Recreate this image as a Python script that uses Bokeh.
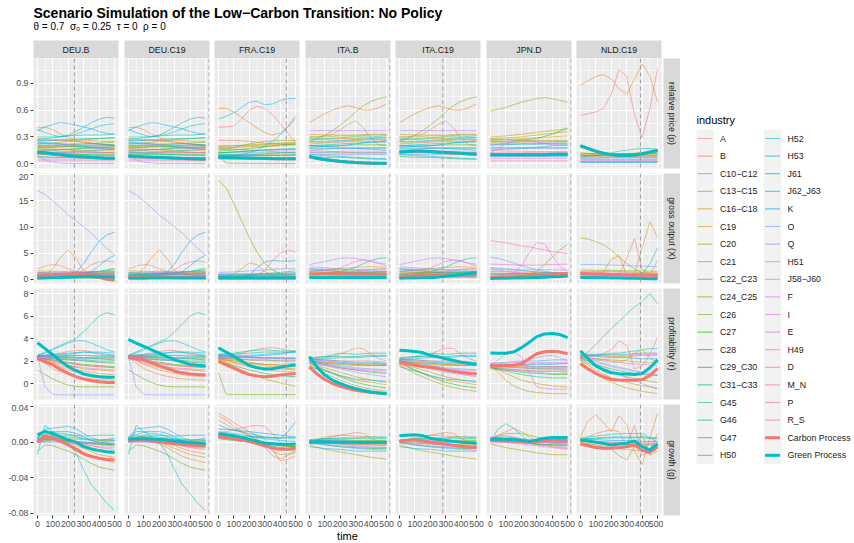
import math
from bokeh.plotting import figure
from bokeh.layouts import column, row
from bokeh.models import (Range1d, FixedTicker, Grid, LinearAxis, PrintfTickFormatter,
                          Label, Span, ColumnDataSource, Spacer)
from bokeh.core.properties import value
from bokeh.embed import file_html
from bokeh.resources import INLINE

# ------------------------------------------------------------------ data
TITLE = "Scenario Simulation of the Low\u2212Carbon Transition: No Policy"
SUBTITLE = "\u03b8 = 0.7\u00a0\u00a0\u03c3\u2080 = 0.25\u00a0\u00a0\u03c4 = 0\u00a0\u00a0\u03c1 = 0"
COLUMNS = ["DEU.B", "DEU.C19", "FRA.C19", "ITA.B", "ITA.C19", "JPN.D", "NLD.C19"]
COUNTRY_OF = ["DEU", "DEU", "FRA", "ITA", "ITA", "JPN", "NLD"]
VARIABLES = ["relative price (p)", "gross output (X)", "profitability (r)", "growth (g)"]
INDUSTRIES = ["A", "B", "C10\u2212C12", "C13\u2212C15", "C16\u2212C18", "C19", "C20", "C21",
              "C22_C23", "C24_C25", "C26", "C27", "C28", "C29_C30", "C31\u2212C33", "G45",
              "G46", "G47", "H50", "H52", "H53", "J61", "J62_J63", "K", "O", "Q", "H51",
              "J58\u2212J60", "F", "I", "E", "H49", "D", "M_N", "P", "R_S"]
PROCESSES = ["Carbon Process", "Green Process"]
TIME_50 = [0, 50, 100, 150, 200, 250, 300, 350, 400, 450, 500]
TIME_100 = [0, 100, 200, 300, 400, 500]
VLINE_TIME = [240, 522, 440, 522, 281, 522, 389]

X_MAJOR = [0, 100, 200, 300, 400, 500]
X_MINOR = [50, 150, 250, 350, 450]
Y_MAJOR = [[0, 0.3, 0.6, 0.9], [0, 5, 10, 15, 20], [0, 2, 4, 6, 8], [-0.08, -0.04, 0, 0.04]]
Y_MINOR = [[0.15, 0.45, 0.75, 1.05], [2.5, 7.5, 12.5, 17.5], [-1, 1, 3, 5, 7], [-0.06, -0.02, 0.02]]

# thick process lines: one list per column (t = 0, 50, ..., 500)
CARBON_P = [
    [0.125, 0.115, 0.105, 0.095, 0.085, 0.078, 0.072, 0.067, 0.063, 0.059, 0.058],
    [0.082, 0.077, 0.073, 0.07, 0.068, 0.064, 0.06, 0.057, 0.054, 0.052, 0.051],
    [0.068, 0.066, 0.064, 0.062, 0.06, 0.058, 0.057, 0.055, 0.054, 0.054, 0.054],
    [0.075, 0.057, 0.043, 0.033, 0.024, 0.017, 0.011, 0.007, 0.004, 0.002, 0.001],
    [0.128, 0.133, 0.137, 0.137, 0.133, 0.128, 0.123, 0.118, 0.113, 0.108, 0.103],
    [0.098, 0.098, 0.098, 0.098, 0.098, 0.098, 0.098, 0.098, 0.102, 0.103, 0.103],
    [0.195, 0.166, 0.137, 0.113, 0.098, 0.091, 0.089, 0.093, 0.108, 0.127, 0.147],
]
GREEN_P = [
    [0.13, 0.12, 0.11, 0.10, 0.09, 0.08, 0.075, 0.07, 0.065, 0.06, 0.06],
    [0.085, 0.08, 0.075, 0.072, 0.07, 0.066, 0.062, 0.058, 0.055, 0.053, 0.052],
    [0.07, 0.068, 0.066, 0.064, 0.062, 0.06, 0.058, 0.056, 0.055, 0.055, 0.055],
    [0.078, 0.06, 0.045, 0.035, 0.025, 0.018, 0.012, 0.008, 0.005, 0.003, 0.002],
    [0.13, 0.135, 0.14, 0.14, 0.135, 0.13, 0.125, 0.12, 0.115, 0.11, 0.105],
    [0.1, 0.1, 0.1, 0.1, 0.1, 0.1, 0.1, 0.1, 0.105, 0.105, 0.105],
    [0.2, 0.17, 0.14, 0.115, 0.1, 0.093, 0.09, 0.095, 0.11, 0.13, 0.15],
]
CARBON_X = [
    [0.7, 0.75, 0.8, 0.9, 1.0, 1.05, 0.9, 0.6, 0.3, 0.0, -0.2],
    [0.35, 0.35, 0.35, 0.34, 0.33, 0.32, 0.31, 0.3, 0.3, 0.3, 0.3],
    [0.2, 0.2, 0.2, 0.2, 0.2, 0.2, 0.2, 0.2, 0.2, 0.2, 0.2],
    [1.0, 1.0, 1.05, 1.05, 1.05, 1.0, 1.0, 1.0, 0.95, 0.95, 0.95],
    [0.4, 0.55, 0.7, 0.75, 0.8, 0.8, 0.8, 0.8, 0.8, 0.8, 0.8],
    [0.3, 0.35, 0.4, 0.45, 0.55, 0.65, 0.75, 0.85, 0.95, 1.05, 1.1],
    [1.08, 1.05, 1.0, 0.95, 0.9, 0.85, 0.8, 0.8, 0.78, 0.77, 0.76],
]
GREEN_X = [
    [0.2, 0.25, 0.3, 0.35, 0.4, 0.45, 0.5, 0.5, 0.45, 0.45, 0.4],
    [0.2, 0.2, 0.2, 0.21, 0.22, 0.22, 0.23, 0.24, 0.24, 0.25, 0.25],
    [0.3, 0.3, 0.3, 0.3, 0.3, 0.3, 0.3, 0.3, 0.3, 0.3, 0.3],
    [0.3, 0.3, 0.3, 0.3, 0.3, 0.3, 0.3, 0.3, 0.3, 0.3, 0.3],
    [0.2, 0.22, 0.25, 0.27, 0.3, 0.4, 0.55, 0.7, 0.9, 1.1, 1.3],
    [0.15, 0.17, 0.2, 0.22, 0.25, 0.3, 0.35, 0.4, 0.45, 0.52, 0.6],
    [0.32, 0.3, 0.28, 0.26, 0.24, 0.22, 0.2, 0.17, 0.14, 0.11, 0.08],
]
CARBON_R = [
    [2.2, 1.95, 1.66, 1.25, 0.9, 0.6, 0.39, 0.25, 0.15, 0.1, 0.09],
    [2.41, 2.25, 2.1, 1.85, 1.6, 1.35, 1.1, 0.95, 0.85, 0.8, 0.78],
    [1.96, 1.65, 1.36, 1.05, 0.8, 0.68, 0.6, 0.65, 0.75, 0.82, 0.9],
    [1.45, 0.85, 0.36, 0.0, -0.25, -0.45, -0.6, -0.7, -0.8, -0.85, -0.9],
    [1.85, 1.75, 1.62, 1.52, 1.45, 1.35, 1.2, 1.08, 0.98, 0.9, 0.84],
    [1.57, 1.57, 1.6, 1.62, 1.75, 2.2, 2.65, 2.82, 2.86, 2.8, 2.65],
    [1.75, 1.3, 0.9, 0.6, 0.36, 0.32, 0.3, 0.3, 0.35, 0.7, 1.36],
]
GREEN_R = [
    [3.62, 3.1, 2.56, 2.0, 1.5, 1.15, 0.84, 0.7, 0.6, 0.56, 0.55],
    [3.92, 3.6, 3.3, 3.0, 2.7, 2.4, 2.1, 1.9, 1.7, 1.62, 1.57],
    [3.17, 2.8, 2.41, 2.0, 1.6, 1.4, 1.3, 1.32, 1.45, 1.55, 1.66],
    [2.4, 1.45, 0.75, 0.3, 0.0, -0.25, -0.45, -0.62, -0.76, -0.85, -0.9],
    [2.95, 2.92, 2.85, 2.75, 2.5, 2.38, 2.2, 2.05, 1.9, 1.8, 1.72],
    [2.72, 2.7, 2.7, 2.8, 3.17, 3.65, 4.17, 4.4, 4.44, 4.35, 4.08],
    [2.92, 2.2, 1.57, 1.2, 0.96, 0.88, 0.84, 0.8, 0.9, 1.4, 2.1],
]
CARBON_G = [
    [0.0, 0.0073, 0.0046, 0.001, -0.003, -0.008, -0.0132, -0.016, -0.018, -0.0195, -0.02],
    [0.002, 0.0025, 0.0022, 0.0015, 0.0005, -0.0005, -0.0015, -0.0025, -0.0032, -0.0038, -0.004],
    [0.0065, 0.0052, 0.0039, 0.0025, 0.001, -0.0015, -0.004, -0.0065, -0.008, -0.0075, -0.0067],
    [-0.0005, -0.0003, -0.0003, -0.0004, -0.0005, -0.0005, -0.0006, -0.0006, -0.0006, -0.0006, -0.0006],
    [0.001, 0.002, 0.0027, 0.0015, 0.0, -0.001, -0.002, -0.0035, -0.0045, -0.0055, -0.006],
    [0.002, 0.0022, 0.002, 0.0015, 0.0008, 0.0, 0.0012, 0.002, 0.0025, 0.0025, 0.002],
    [-0.002, -0.004, -0.006, -0.0068, -0.0068, -0.006, -0.005, -0.003, -0.009, -0.0115, -0.005],
]
GREEN_G = [
    [0.0084, 0.0122, 0.0096, 0.006, 0.0027, 0.0, -0.0049, -0.0075, -0.0094, -0.0108, -0.0113],
    [0.0035, 0.004, 0.004, 0.0038, 0.0033, 0.0025, 0.0015, 0.0005, -0.0003, -0.0008, -0.001],
    [0.0096, 0.0085, 0.0073, 0.0055, 0.0035, 0.0012, -0.001, -0.0018, -0.0022, -0.0022, -0.002],
    [0.0, 0.0005, 0.0005, 0.0004, 0.0003, 0.0002, 0.0, 0.0, 0.0, 0.0, 0.0],
    [0.0073, 0.008, 0.0084, 0.0075, 0.0046, 0.003, 0.002, 0.001, 0.0, -0.0005, -0.001],
    [0.0035, 0.0038, 0.0035, 0.003, 0.002, 0.001, 0.0025, 0.0045, 0.0054, 0.0054, 0.0054],
    [0.0027, 0.0015, 0.0, -0.0015, -0.003, -0.002, -0.001, 0.0016, -0.005, -0.0085, -0.002],
]

# industry lines: 11 values -> t every 50, 6 values -> t every 100
DEU_P = {
    "J61": [0.37, 0.41, 0.44, 0.46, 0.45, 0.43, 0.41, 0.39, 0.36, 0.34, 0.33],
    "G46": [0.27, 0.28, 0.29, 0.30, 0.32, 0.36, 0.41, 0.46, 0.50, 0.52, 0.51],
    "H50": [0.38, 0.35, 0.32, 0.30, 0.31, 0.33, 0.36, 0.39, 0.42, 0.44, 0.45],
    "C10\u2212C12": [0.40, 0.41, 0.38, 0.33, 0.29, 0.27, 0.26, 0.26, 0.25, 0.25, 0.25],
    "A": [0.25, 0.26, 0.26, 0.24, 0.22, 0.20],
    "B": [0.20, 0.20, 0.19, 0.18, 0.17, 0.17],
    "H53": [0.30, 0.30, 0.31, 0.32, 0.32, 0.33],
    "C24_C25": [0.22, 0.23, 0.25, 0.27, 0.28, 0.29],
    "C26": [0.20, 0.20, 0.21, 0.22, 0.23, 0.24],
    "C27": [0.18, 0.18, 0.19, 0.19, 0.20, 0.20],
    "C13\u2212C15": [0.28, 0.27, 0.26, 0.24, 0.22, 0.20],
    "C16\u2212C18": [0.16, 0.16, 0.16, 0.15, 0.15, 0.15],
    "C19": [0.11, 0.11, 0.12, 0.12, 0.12, 0.13],
    "C20": [0.15, 0.15, 0.16, 0.17, 0.18, 0.19],
    "C21": [0.19, 0.19, 0.20, 0.20, 0.21, 0.21],
    "C22_C23": [0.17, 0.16, 0.15, 0.14, 0.13, 0.12],
    "K": [0.24, 0.23, 0.21, 0.19, 0.17, 0.16],
    "G45": [0.12, 0.12, 0.13, 0.14, 0.15, 0.16],
    "G47": [0.26, 0.26, 0.27, 0.28, 0.28, 0.29],
    "H52": [0.14, 0.15, 0.16, 0.17, 0.18, 0.18],
    "C28": [0.10, 0.10, 0.10, 0.10, 0.10, 0.10],
    "C29_C30": [0.08, 0.07, 0.07, 0.06, 0.06, 0.06],
    "Q": [0.09, 0.04, 0.015, 0.005, 0.0, 0.0, 0.0, 0.0, 0.0, 0.0, 0.0],
    "O": [0.05, 0.05, 0.05, 0.05, 0.05, 0.05],
    "H51": [0.23, 0.22, 0.21, 0.20, 0.19, 0.18],
    "F": [0.12, 0.12, 0.12, 0.12, 0.12, 0.12],
    "E": [0.07, 0.07, 0.07, 0.07, 0.07, 0.07],
    "D": [0.03, 0.03, 0.03, 0.03, 0.03, 0.03],
    "M_N": [0.14, 0.14, 0.13, 0.13, 0.12, 0.12],
    "J62_J63": [0.22, 0.22, 0.22, 0.22, 0.22, 0.21],
    "C31\u2212C33": [0.13, 0.12, 0.11, 0.10, 0.09, 0.09],
}
DEU_X = {
    "Q": [17.0, 16.2, 15.0, 13.7, 12.3, 11.2, 10.0, 8.8, 7.3, 5.9, 4.6],
    "K": [0.5, 0.6, 0.7, 0.8, 1.0, 1.3, 3.0, 5.3, 7.3, 8.5, 9.0],
    "J62_J63": [0.4, 0.4, 0.5, 0.6, 0.7, 0.8, 1.0, 1.5, 2.6, 3.8, 4.6],
    "C10\u2212C12": [0.5, 0.8, 2.0, 4.2, 5.6, 4.0, 1.6, 1.0, 0.8, 0.7, 0.7],
    "B": [2.0, 2.5, 2.8, 2.6, 2.0, 1.5, 1.2, 1.1, 1.0, 1.0, 1.0],
    "A": [0.5, 0.5, 0.6, 0.7, 0.8, 1.0, 1.8, 2.8, 3.3, 3.5, 3.3],
    "G46": [0.8, 0.9, 1.0, 1.2, 1.5, 2.1],
    "G45": [1.0, 1.1, 1.2, 1.3, 1.5, 1.8],
    "G47": [0.9, 0.9, 1.0, 1.0, 1.1, 1.1],
    "H50": [0.3, 0.3, 0.3, 0.3, 0.3, 0.3],
    "C13\u2212C15": [0.9, 1.0, 1.1, 1.2, 1.4, 1.6],
    "C20": [0.6, 0.7, 0.8, 0.9, 1.0, 1.1],
    "C21": [1.6, 1.5, 1.5, 1.4, 1.4, 1.3],
    "C29_C30": [1.3, 1.2, 1.1, 1.0, 0.9, 0.8],
    "H53": [0.3, 0.3, 0.4, 0.4, 0.5, 0.5],
    "C24_C25": [0.7, 0.8, 0.9, 1.0, 1.2, 1.4],
    "M_N": [0.5, 0.5, 0.5, 0.6, 0.6, 0.6],
    "O": [0.7, 0.7, 0.7, 0.7, 0.7, 0.7],
    "F": [1.1, 1.1, 1.0, 1.0, 0.9, 0.9],
    "I": [1.2, 1.2, 1.3, 1.3, 1.4, 1.4],
    "E": [0.4, 0.4, 0.4, 0.4, 0.4, 0.4],
    "C27": [0.2, 0.2, 0.2, 0.2, 0.2, 0.2],
}
DEU_R = {
    "G46": [2.5, 2.8, 3.1, 3.4, 3.7, 4.0, 4.6, 5.3, 6.0, 6.3, 6.1],
    "H50": [2.5, 2.7, 3.0, 3.3, 3.6, 3.8, 3.8, 3.6, 3.3, 3.0, 2.8],
    "A": [2.4, 2.5, 2.6, 2.7, 2.85, 2.95, 2.95, 2.8, 2.6, 2.5, 2.4],
    "Q": [2.4, -0.3, -0.95, -1.0, -1.0, -1.0, -1.0, -1.0, -1.0, -1.0, -1.0],
    "C26": [1.2, 0.8, 0.4, 0.1, -0.15, -0.25, -0.3, -0.3, -0.3, -0.3, -0.3],
    "C10\u2212C12": [2.3, 1.3, 0.8, 0.5, 0.35, 0.3],
    "B": [2.4, 1.7, 1.2, 0.9, 0.7, 0.6],
    "J61": [2.4, 2.5, 2.6, 2.8, 2.7, 2.5],
    "H53": [2.5, 2.6, 2.7, 2.8, 2.8, 2.7],
    "C24_C25": [2.4, 2.3, 2.2, 2.0, 1.9, 1.8],
    "C16\u2212C18": [2.3, 2.0, 1.8, 1.6, 1.5, 1.4],
    "C20": [2.3, 2.0, 1.6, 1.3, 1.2, 1.1],
    "C21": [2.4, 2.4, 2.3, 2.3, 2.2, 2.2],
    "C27": [2.3, 2.1, 1.9, 1.7, 1.6, 1.5],
    "C29_C30": [2.2, 2.2, 2.1, 2.1, 2.0, 2.0],
    "G47": [2.4, 2.5, 2.5, 2.5, 2.4, 2.4],
    "K": [2.4, 2.3, 2.3, 2.2, 2.2, 2.1],
    "O": [2.3, 2.2, 2.1, 2.0, 1.9, 1.9],
    "I": [2.4, 2.4, 2.5, 2.5, 2.5, 2.5],
    "E": [2.2, 1.9, 1.6, 1.4, 1.3, 1.2],
    "M_N": [2.3, 2.1, 1.8, 1.6, 1.5, 1.4],
    "C13\u2212C15": [2.3, 1.8, 1.4, 1.1, 0.9, 0.8],
    "G45": [2.5, 2.4, 2.4, 2.3, 2.3, 2.3],
}
DEU_G = {
    "H50": [-0.014, 0.019, 0.012, 0.006, 0.0, -0.0125, -0.0315, -0.048, -0.058, -0.069, -0.077],
    "C26": [-0.01, -0.003, -0.004, -0.007, -0.01, -0.014, -0.019, -0.024, -0.028, -0.03, -0.0315],
    "J61": [0.005, 0.015, 0.016, 0.017, 0.018, 0.015, 0.01, 0.005, 0.002, 0.003, 0.005],
    "K": [0.005, 0.012, 0.012, 0.012, 0.012, 0.01, 0.006, 0.002, 0.0, 0.001, 0.002],
    "C10\u2212C12": [0.005, 0.008, 0.006, 0.002, -0.002, -0.006, -0.011, -0.016, -0.019, -0.021, -0.023],
    "C13\u2212C15": [0.003, 0.005, 0.0, -0.007, -0.014, -0.017],
    "C16\u2212C18": [0.002, 0.004, 0.002, -0.001, -0.003, -0.004],
    "B": [0.004, 0.006, 0.002, -0.004, -0.010, -0.013],
    "G46": [0.004, 0.008, 0.008, 0.007, 0.008, 0.008],
    "G47": [0.004, 0.007, 0.006, 0.004, 0.003, 0.003],
    "C24_C25": [0.002, 0.004, 0.002, 0.0, -0.002, -0.003],
    "C20": [0.0, 0.003, 0.002, 0.0, -0.001, -0.002],
    "C21": [0.003, 0.005, 0.004, 0.003, 0.002, 0.002],
    "A": [0.003, 0.006, 0.003, -0.002, -0.006, -0.008],
    "Q": [0.0, 0.0, 0.0, 0.0, 0.0, 0.0],
    "O": [0.001, 0.002, 0.001, 0.0, -0.001, -0.001],
    "E": [0.0, 0.001, -0.001, -0.003, -0.005, -0.006],
    "H53": [0.006, 0.011, 0.009, 0.004, 0.0, -0.002],
    "C29_C30": [0.002, 0.003, 0.001, -0.001, -0.002, -0.003],
}
FRA_P = {
    "J61": [0.50, 0.53, 0.57, 0.63, 0.69, 0.70, 0.66, 0.67, 0.71, 0.73, 0.73],
    "C10\u2212C12": [0.62, 0.62, 0.58, 0.52, 0.46, 0.40, 0.35, 0.32, 0.34, 0.41, 0.50],
    "A": [0.41, 0.41, 0.42, 0.50, 0.60, 0.645, 0.62, 0.55, 0.45, 0.34, 0.24],
    "K": [0.08, 0.08, 0.09, 0.10, 0.12, 0.15, 0.20, 0.25, 0.32, 0.42, 0.53],
    "B": [0.26, 0.26, 0.25, 0.23, 0.22, 0.21],
    "C16\u2212C18": [0.20, 0.20, 0.20, 0.21, 0.22, 0.23],
    "C19": [0.10, 0.10, 0.10, 0.10, 0.10, 0.10],
    "C21": [0.19, 0.20, 0.21, 0.22, 0.23, 0.24],
    "C24_C25": [0.15, 0.18, 0.22, 0.25, 0.26, 0.26],
    "C27": [0.14, 0.15, 0.17, 0.19, 0.21, 0.22],
    "C20": [0.18, 0.18, 0.19, 0.19, 0.20, 0.21],
    "C28": [0.12, 0.13, 0.14, 0.15, 0.16, 0.16],
    "C26": [0.10, 0.005, 0.003, 0.002, 0.002, 0.001, 0.001, 0.0, 0.0, 0.0, 0.0],
    "G45": [0.12, 0.13, 0.14, 0.15, 0.16, 0.17],
    "H50": [0.09, 0.09, 0.09, 0.09, 0.09, 0.09],
    "H51": [0.16, 0.16, 0.15, 0.15, 0.15, 0.15],
    "H53": [0.10, 0.10, 0.09, 0.09, 0.09, 0.10],
    "J62_J63": [0.09, 0.09, 0.10, 0.11, 0.12, 0.13],
    "G46": [0.12, 0.12, 0.12, 0.12, 0.12, 0.12],
    "C13\u2212C15": [0.17, 0.16, 0.15, 0.14, 0.13, 0.12],
    "M_N": [0.05, 0.05, 0.05, 0.05, 0.05, 0.05],
    "E": [0.06, 0.06, 0.06, 0.06, 0.06, 0.06],
    "Q": [0.07, 0.07, 0.07, 0.06, 0.06, 0.06],
}
FRA_X = {
    "C24_C25": [19.0, 17.5, 14.5, 11.2, 8.0, 5.2, 3.0, 1.8, 1.0, 0.6, 0.4],
    "A": [0.5, 0.5, 0.5, 0.5, 0.6, 0.9, 1.6, 3.5, 5.0, 5.6, 5.2],
    "K": [0.3, 0.3, 0.3, 0.4, 0.8, 2.2, 3.3, 3.6, 3.5, 3.4, 3.6],
    "C10\u2212C12": [0.3, 0.5, 1.0, 2.0, 3.1, 2.8, 1.5, 0.6, 0.4, 0.3, 0.3],
    "Q": [1.3, 1.4, 1.6, 1.8, 2.0, 2.0],
    "H51": [1.0, 1.0, 1.0, 1.0, 1.0, 1.0],
    "H53": [0.8, 0.8, 0.9, 1.0, 1.1, 1.3],
    "G45": [0.6, 0.6, 0.7, 0.8, 0.9, 1.0],
    "G46": [0.9, 1.0, 1.0, 1.1, 1.3, 1.6],
    "B": [0.6, 0.7, 0.7, 0.8, 0.8, 0.9],
    "C13\u2212C15": [0.3, 0.3, 0.3, 0.3, 0.4, 0.4],
    "C21": [0.8, 0.8, 0.9, 0.9, 1.0, 1.0],
    "C27": [0.5, 0.5, 0.6, 0.6, 0.7, 0.7],
    "M_N": [0.4, 0.4, 0.4, 0.5, 0.5, 0.5],
    "C20": [0.2, 0.2, 0.3, 0.3, 0.3, 0.3],
}
FRA_R = {
    "A": [2.5, 2.5, 2.6, 2.7, 2.9, 3.05, 3.15, 3.2, 3.1, 2.95, 2.8],
    "C26": [1.0, -0.95, -0.97, -0.97, -0.98, -0.98, -0.98, -0.98, -0.98, -0.98, -0.98],
    "C21": [2.2, 1.5, 0.9, 0.4, 0.05, -0.25],
    "C28": [2.0, 1.6, 1.2, 0.9, 0.7, 0.6],
    "C19": [2.2, 2.0, 1.8, 1.6, 1.4, 1.3],
    "G45": [2.5, 2.6, 2.7, 2.8, 2.8, 2.8],
    "G46": [2.6, 2.7, 2.9, 3.0, 2.9, 2.9],
    "J61": [2.3, 2.3, 2.4, 2.5, 2.6, 2.9],
    "K": [2.4, 2.4, 2.3, 2.3, 2.2, 2.2],
    "H51": [2.4, 2.3, 2.3, 2.2, 2.2, 2.2],
    "C24_C25": [2.5, 2.4, 2.3, 2.3, 2.3, 2.3],
    "C27": [2.3, 2.2, 2.1, 2.1, 2.0, 2.0],
    "C20": [2.3, 2.1, 1.9, 1.7, 1.6, 1.5],
    "Q": [2.4, 2.4, 2.4, 2.3, 2.3, 2.2],
    "C10\u2212C12": [2.2, 2.0, 1.8, 1.7, 1.7, 1.8],
    "C13\u2212C15": [2.2, 1.9, 1.6, 1.4, 1.3, 1.2],
    "M_N": [2.3, 2.2, 2.1, 2.0, 2.0, 2.0],
    "B": [2.1, 1.8, 1.5, 1.2, 1.1, 1.0],
    "H53": [2.6, 2.5, 2.5, 2.6, 2.7, 2.8],
}
FRA_G = {
    "C10\u2212C12": [0.033, 0.028, 0.022, 0.017, 0.012, 0.008, 0.0035, -0.008, -0.0209, -0.019, -0.0155],
    "B": [0.03, 0.025, 0.018, 0.012, 0.008, 0.002, -0.006, -0.015, -0.019, -0.015, -0.01],
    "C13\u2212C15": [0.025, 0.02, 0.015, 0.011, 0.008, 0.004, -0.002, -0.01, -0.014, -0.013, -0.012],
    "A": [0.01, 0.012, 0.014, 0.016, 0.018, 0.019, 0.018, 0.01, 0.0, -0.004, -0.005],
    "J61": [0.02, 0.016, 0.013, 0.012, 0.01, 0.008, 0.006, 0.005, 0.004, 0.012, 0.0236],
    "K": [0.015, 0.014, 0.012, 0.01, 0.008, 0.006],
    "G45": [0.006, 0.006, 0.006, 0.005, 0.005, 0.005],
    "G46": [0.005, 0.006, 0.007, 0.006, 0.005, 0.005],
    "C20": [0.01, 0.008, 0.004, 0.0, -0.004, -0.006],
    "C21": [0.007, 0.005, 0.002, -0.001, -0.003, -0.004],
    "C26": [0.008, 0.004, 0.0, -0.005, -0.008, -0.01],
    "C27": [0.009, 0.007, 0.004, 0.0, -0.003, -0.005],
    "C24_C25": [0.006, 0.004, 0.001, -0.002, -0.004, -0.005],
    "C28": [0.004, 0.002, 0.0, -0.003, -0.006, -0.008],
    "Q": [0.005, 0.004, 0.002, 0.0, -0.001, -0.002],
    "H53": [0.012, 0.01, 0.007, 0.004, 0.002, 0.001],
}
ITA_P = {
    "C10\u2212C12": [0.46, 0.51, 0.56, 0.60, 0.63, 0.65, 0.63, 0.60, 0.60, 0.63, 0.67],
    "C24_C25": [0.25, 0.28, 0.32, 0.37, 0.43, 0.50, 0.58, 0.65, 0.70, 0.73, 0.75],
    "A": [0.30, 0.30, 0.31, 0.33, 0.38, 0.44, 0.48, 0.40, 0.28, 0.21, 0.20],
    "H51": [0.37, 0.37, 0.37, 0.37, 0.37, 0.37],
    "C16\u2212C18": [0.27, 0.27, 0.28, 0.28, 0.29, 0.29],
    "C19": [0.33, 0.32, 0.32, 0.32, 0.33, 0.33],
    "C20": [0.30, 0.30, 0.31, 0.31, 0.32, 0.32],
    "C21": [0.24, 0.24, 0.25, 0.26, 0.27, 0.27],
    "G45": [0.20, 0.21, 0.22, 0.23, 0.24, 0.24],
    "G46": [0.28, 0.28, 0.29, 0.30, 0.30, 0.31],
    "H50": [0.17, 0.17, 0.17, 0.17, 0.17, 0.17],
    "J61": [0.25, 0.25, 0.26, 0.27, 0.28, 0.29],
    "B": [0.22, 0.23, 0.24, 0.25, 0.25, 0.26],
    "C27": [0.20, 0.20, 0.20, 0.21, 0.21, 0.21],
    "K": [0.18, 0.19, 0.20, 0.22, 0.24, 0.25],
    "O": [0.10, 0.10, 0.10, 0.10, 0.10, 0.10],
    "Q": [0.15, 0.16, 0.17, 0.18, 0.18, 0.18],
    "C28": [0.12, 0.12, 0.12, 0.12, 0.12, 0.12],
    "H53": [0.10, 0.09, 0.08, 0.07, 0.06, 0.05],
    "E": [0.13, 0.13, 0.14, 0.14, 0.14, 0.14],
    "M_N": [0.15, 0.14, 0.13, 0.12, 0.12, 0.12],
    "C29_C30": [0.08, 0.07, 0.07, 0.06, 0.05, 0.05],
    "J62_J63": [0.20, 0.19, 0.18, 0.17, 0.16, 0.15],
}
ITA_X = {
    "H51": [2.8, 3.1, 3.4, 3.7, 4.0, 4.1, 4.0, 3.7, 3.4, 3.1, 2.9],
    "G46": [1.0, 1.1, 1.2, 1.3, 1.5, 1.8, 2.3, 3.0, 3.6, 4.0, 4.1],
    "E": [1.5, 1.5, 1.6, 1.8, 2.2, 2.8, 3.4, 3.7, 3.5, 3.0, 2.5],
    "C10\u2212C12": [1.5, 1.7, 2.0, 2.3, 2.4, 2.3],
    "C24_C25": [2.0, 1.8, 1.6, 1.5, 1.4, 1.4],
    "B": [0.8, 1.0, 1.3, 1.6, 1.9, 2.1],
    "C19": [0.3, 0.3, 0.3, 0.3, 0.3, 0.3],
    "C20": [1.2, 1.2, 1.3, 1.3, 1.4, 1.5],
    "C21": [1.4, 1.3, 1.3, 1.2, 1.2, 1.2],
    "C27": [0.6, 0.6, 0.7, 0.7, 0.8, 0.8],
    "G45": [0.9, 1.0, 1.1, 1.2, 1.3, 1.4],
    "H50": [0.5, 0.5, 0.5, 0.5, 0.5, 0.5],
    "K": [1.8, 1.6, 1.4, 1.2, 1.1, 1.0],
    "O": [2.0, 1.9, 1.9, 1.8, 1.8, 1.8],
    "Q": [2.4, 2.2, 2.0, 1.8, 1.6, 1.5],
    "J61": [0.4, 0.4, 0.5, 0.5, 0.5, 0.6],
    "M_N": [1.0, 1.0, 1.0, 1.1, 1.1, 1.1],
}
ITA_R = {
    "A": [2.2, 2.2, 2.3, 2.4, 2.6, 2.9, 3.15, 3.1, 2.6, 2.2, 2.0],
    "G46": [2.2, 2.4, 2.7, 2.6, 2.7, 2.7],
    "G45": [2.3, 2.4, 2.4, 2.4, 2.5, 2.5],
    "J61": [2.1, 2.2, 2.3, 2.3, 2.4, 2.4],
    "H50": [2.2, 2.1, 2.0, 1.9, 1.9, 1.8],
    "H51": [1.9, 1.7, 1.5, 1.3, 1.2, 1.2],
    "O": [2.0, 1.8, 1.6, 1.4, 1.3, 1.2],
    "Q": [1.9, 1.6, 1.3, 1.0, 0.8, 0.6],
    "C19": [2.0, 1.9, 1.8, 1.7, 1.6, 1.6],
    "C24_C25": [2.0, 1.8, 1.7, 1.6, 1.6, 1.6],
    "C20": [1.8, 1.4, 1.0, 0.6, 0.3, 0.1],
    "C21": [1.6, 0.9, 0.3, -0.2, -0.5, -0.7],
    "C28": [1.9, 1.2, 0.6, 0.1, -0.2, -0.4],
    "C27": [2.0, 1.7, 1.4, 1.2, 1.0, 0.9],
    "C13\u2212C15": [1.7, 1.2, 0.7, 0.3, 0.1, -0.1],
    "K": [2.1, 2.0, 1.9, 1.8, 1.8, 1.7],
    "C10\u2212C12": [2.0, 1.9, 1.8, 1.7, 1.7, 1.7],
    "E": [1.8, 1.6, 1.4, 1.2, 1.1, 1.0],
    "M_N": [2.1, 2.1, 2.0, 2.0, 2.0, 1.9],
    "H53": [1.5, 1.1, 0.7, 0.4, 0.3, 0.2],
}
ITA_G = {
    "A": [0.0, 0.002, 0.004, 0.006, 0.008, 0.0095, 0.011, 0.010, 0.004, 0.001, 0.0],
    "C10\u2212C12": [0.0, 0.006, 0.008, 0.007, 0.006, 0.005],
    "C19": [0.001, 0.0, -0.001, -0.002, -0.003, -0.003],
    "C21": [-0.003, -0.008, -0.011, -0.014, -0.017, -0.019],
    "J61": [-0.005, -0.007, -0.008, -0.01, -0.01, -0.01],
    "G45": [0.003, 0.004, 0.004, 0.004, 0.004, 0.004],
    "G46": [0.002, 0.004, 0.005, 0.005, 0.006, 0.006],
    "O": [-0.001, -0.003, -0.005, -0.007, -0.008, -0.009],
    "Q": [0.0, -0.002, -0.004, -0.005, -0.006, -0.006],
    "C24_C25": [0.001, 0.003, 0.003, 0.002, 0.002, 0.002],
    "C28": [0.0, -0.003, -0.005, -0.006, -0.007, -0.007],
    "C20": [0.0, -0.001, -0.002, -0.003, -0.003, -0.004],
    "H51": [0.001, 0.0, -0.002, -0.004, -0.005, -0.006],
    "E": [0.001, 0.002, 0.002, 0.001, 0.001, 0.0],
    "K": [0.002, 0.002, 0.001, 0.0, 0.0, 0.0],
}
JPN_P = {
    "C24_C25": [0.59, 0.61, 0.63, 0.66, 0.69, 0.71, 0.73, 0.74, 0.73, 0.71, 0.69],
    "C16\u2212C18": [0.26, 0.27, 0.28, 0.29, 0.30, 0.31],
    "C19": [0.30, 0.31, 0.33, 0.35, 0.37, 0.39],
    "C21": [0.28, 0.29, 0.30, 0.32, 0.34, 0.36],
    "C22_C23": [0.24, 0.24, 0.24, 0.25, 0.25, 0.25],
    "C27": [0.25, 0.25, 0.26, 0.28, 0.33, 0.40],
    "C20": [0.27, 0.27, 0.26, 0.26, 0.26, 0.26],
    "H51": [0.20, 0.23, 0.25, 0.24, 0.24, 0.25],
    "I": [0.12, 0.22, 0.27, 0.24, 0.21, 0.20],
    "K": [0.22, 0.22, 0.22, 0.22, 0.22, 0.22],
    "G45": [0.21, 0.21, 0.22, 0.22, 0.23, 0.23],
    "G46": [0.15, 0.16, 0.17, 0.18, 0.20, 0.21],
    "O": [0.17, 0.17, 0.17, 0.17, 0.17, 0.17],
    "C10\u2212C12": [0.18, 0.18, 0.18, 0.18, 0.18, 0.18],
    "H49": [0.10, 0.10, 0.10, 0.10, 0.10, 0.10],
    "E": [0.06, 0.06, 0.06, 0.06, 0.06, 0.06],
    "D": [0.03, 0.03, 0.03, 0.03, 0.03, 0.03],
    "M_N": [0.12, 0.12, 0.12, 0.13, 0.13, 0.13],
    "J61": [0.08, 0.08, 0.08, 0.08, 0.08, 0.08],
    "A": [0.15, 0.14, 0.14, 0.13, 0.13, 0.13],
}
JPN_X = {
    "D": [7.4, 7.2, 7.0, 6.7, 6.4, 6.2, 5.9, 5.6, 5.3, 5.1, 4.9],
    "E": [0.5, 0.6, 0.8, 1.2, 2.5, 5.0, 7.0, 6.8, 4.5, 2.5, 1.5],
    "C24_C25": [0.5, 0.5, 0.5, 0.5, 0.6, 0.8, 1.5, 2.8, 4.2, 5.6, 6.7],
    "O": [4.2, 4.0, 3.6, 3.1, 2.6, 2.2, 1.8, 1.5, 1.3, 1.1, 1.0],
    "H49": [2.9, 2.8, 2.7, 2.7, 2.8, 2.9],
    "H51": [1.8, 1.8, 1.8, 1.8, 1.8, 1.8],
    "G45": [1.2, 1.1, 1.1, 1.0, 1.0, 1.0],
    "G46": [2.2, 2.0, 1.7, 1.4, 1.2, 1.0],
    "C10\u2212C12": [1.5, 1.4, 1.4, 1.3, 1.3, 1.2],
    "C20": [0.9, 0.9, 0.9, 0.9, 1.0, 1.0],
    "K": [1.0, 1.0, 1.1, 1.1, 1.2, 1.2],
    "J61": [0.6, 0.6, 0.6, 0.6, 0.6, 0.6],
    "I": [2.0, 1.5, 1.2, 1.0, 0.9, 0.8],
    "M_N": [0.8, 0.8, 0.8, 0.8, 0.8, 0.8],
    "C27": [0.4, 0.4, 0.4, 0.4, 0.5, 0.5],
}
JPN_R = {
    "I": [1.6, 2.1, 2.6, 2.8, 2.4, 1.0, -0.3, -0.45, -0.48, -0.5, -0.5],
    "H51": [1.5, 1.5, 1.6, 1.7, 1.9, 2.1, 2.3, 2.45, 2.5, 2.3, 2.0],
    "C21": [1.6, 1.0, 0.3, -0.2, -0.5, -0.7, -0.8, -0.85, -0.9, -0.9, -0.9],
    "C19": [1.4, 1.3, 1.2, 1.1, 1.1, 1.0],
    "C20": [1.5, 0.9, 0.3, 0.0, -0.2, -0.3],
    "G45": [1.7, 1.6, 1.6, 1.5, 1.5, 1.5],
    "G46": [1.5, 1.1, 0.8, 0.6, 0.5, 0.5],
    "C24_C25": [1.6, 1.5, 1.4, 1.3, 1.3, 1.2],
    "C10\u2212C12": [1.6, 1.5, 1.5, 1.4, 1.4, 1.4],
    "K": [1.6, 1.6, 1.7, 1.7, 1.7, 1.8],
    "J61": [1.8, 1.9, 2.0, 2.0, 2.1, 2.1],
    "O": [1.5, 1.4, 1.4, 1.3, 1.3, 1.3],
    "Q": [1.5, 1.3, 1.1, 1.0, 0.9, 0.9],
    "C27": [1.4, 1.2, 1.0, 0.9, 0.8, 0.8],
    "E": [1.7, 1.8, 1.9, 1.9, 1.9, 1.9],
    "H49": [1.6, 1.7, 1.7, 1.8, 1.8, 1.8],
    "D": [1.3, 1.2, 1.2, 1.1, 1.1, 1.1],
    "M_N": [1.7, 1.6, 1.6, 1.5, 1.5, 1.5],
}
JPN_G = {
    "G46": [0.0, 0.015, 0.021, 0.016, 0.008, 0.0, -0.003, -0.003, -0.002, -0.002, -0.002],
    "A": [0.002, 0.008, 0.012, 0.016, 0.012, 0.006, 0.002, 0.0, 0.0, 0.0, 0.0],
    "C19": [0.001, 0.0, -0.001, -0.002, -0.003, -0.003],
    "C20": [0.002, 0.004, 0.002, -0.002, -0.005, -0.007],
    "C21": [-0.002, -0.006, -0.009, -0.012, -0.014, -0.014],
    "C24_C25": [0.004, 0.01, 0.01, 0.006, 0.003, 0.002],
    "G45": [0.005, 0.006, 0.004, 0.002, 0.001, 0.001],
    "K": [0.004, 0.003, 0.002, 0.001, 0.0, 0.0],
    "O": [0.003, 0.002, 0.001, 0.0, -0.001, -0.002],
    "E": [0.001, 0.0, -0.002, -0.004, -0.006, -0.008],
    "I": [0.006, 0.008, 0.004, -0.001, -0.004, -0.006],
    "H51": [0.002, 0.002, 0.001, 0.001, 0.0, 0.0],
    "C27": [0.003, 0.002, 0.0, -0.002, -0.003, -0.004],
    "D": [0.0, 0.0, 0.0, 0.0, 0.0, 0.0],
}
NLD_P = {
    "C10\u2212C12": [0.88, 0.93, 0.98, 1.0, 0.95, 0.84, 0.78, 0.95, 1.12, 0.98, 0.69],
    "A": [0.54, 0.56, 0.58, 0.62, 0.78, 1.06, 0.98, 0.55, 0.29, 0.62, 1.07],
    "G46": [0.07, 0.08, 0.09, 0.10, 0.12, 0.14, 0.15, 0.16, 0.17, 0.17, 0.16],
    "C20": [0.10, 0.10, 0.10, 0.10, 0.10, 0.10],
    "C19": [0.08, 0.08, 0.08, 0.08, 0.08, 0.08],
    "C21": [0.11, 0.11, 0.11, 0.11, 0.12, 0.12],
    "C26": [0.02, 0.02, 0.02, 0.02, 0.02, 0.02],
    "G45": [0.09, 0.09, 0.09, 0.09, 0.09, 0.09],
    "Q": [0.06, 0.06, 0.07, 0.07, 0.07, 0.07],
    "C24_C25": [0.09, 0.09, 0.10, 0.11, 0.12, 0.12],
    "H53": [0.02, 0.02, 0.02, 0.02, 0.02, 0.02],
    "J61": [0.01, 0.01, 0.01, 0.01, 0.01, 0.01],
    "K": [0.05, 0.05, 0.05, 0.05, 0.05, 0.05],
    "E": [0.07, 0.07, 0.07, 0.07, 0.07, 0.07],
    "M_N": [0.04, 0.04, 0.04, 0.04, 0.04, 0.04],
    "C27": [0.12, 0.11, 0.11, 0.11, 0.11, 0.11],
    "H51": [0.03, 0.03, 0.03, 0.03, 0.03, 0.03],
}
NLD_X = {
    "C21": [7.9, 7.7, 7.2, 6.6, 5.6, 4.3, 3.0, 2.0, 1.2, 0.7, 0.5],
    "C10\u2212C12": [0.5, 0.5, 0.6, 1.5, 3.8, 4.5, 0.8, 1.0, 6.0, 11.0, 8.0],
    "A": [0.5, 0.5, 0.5, 0.5, 0.6, 1.0, 4.0, 7.8, 2.0, 0.8, 3.6],
    "G46": [0.6, 0.6, 0.6, 0.6, 0.7, 0.7, 0.8, 0.8, 1.0, 3.0, 6.0],
    "O": [2.8, 2.8, 2.7, 2.6, 2.5, 2.4],
    "C20": [1.5, 1.5, 1.5, 1.4, 1.3, 1.2],
    "C19": [1.1, 1.1, 1.0, 1.0, 0.9, 0.9],
    "C24_C25": [1.8, 1.7, 1.7, 1.6, 1.6, 1.5],
    "G45": [0.9, 0.9, 0.9, 0.9, 0.9, 0.9],
    "Q": [1.0, 1.0, 0.9, 0.9, 0.9, 0.8],
    "C27": [0.8, 0.8, 0.8, 0.8, 0.8, 0.8],
    "K": [0.3, 0.3, 0.3, 0.3, 0.3, 0.3],
    "E": [0.5, 0.5, 0.5, 0.5, 0.5, 0.5],
    "M_N": [1.3, 1.3, 1.2, 1.2, 1.1, 1.1],
}
NLD_R = {
    "G46": [2.35, 2.8, 3.47, 4.2, 4.9, 5.5, 6.2, 6.8, 7.3, 8.0, 7.1],
    "A": [2.3, 2.4, 2.5, 2.7, 3.0, 3.8, 3.4, 1.3, 1.6, 2.6, 4.1],
    "C21": [2.3, 2.2, 2.1, 2.0, 1.9, 1.9, 2.1, 2.7, 3.0, 2.3, 1.8],
    "H53": [2.6, 2.6, 2.6, 2.6, 2.7, 2.7, 2.8, 2.9, 3.0, 3.1, 3.1],
    "C19": [2.0, 0.8, 0.1, -0.4, -0.7, -0.9],
    "C20": [2.1, 1.2, 0.5, 0.1, -0.2, -0.4],
    "C26": [2.1, 1.5, 1.0, 0.6, 0.3, 0.1],
    "G45": [2.5, 2.5, 2.6, 2.6, 2.7, 2.7],
    "O": [2.3, 2.0, 1.6, 1.3, 1.0, 0.8],
    "Q": [2.3, 1.7, 1.1, 0.5, 0.0, -0.5],
    "H51": [2.2, 1.9, 1.5, 1.2, 0.9, 0.7],
    "C24_C25": [2.4, 2.2, 2.1, 2.0, 1.9, 1.9],
    "C27": [2.2, 1.7, 1.3, 1.0, 0.8, 0.7],
    "K": [2.5, 2.4, 2.3, 2.3, 2.2, 2.2],
    "M_N": [2.4, 2.2, 2.0, 1.8, 1.7, 1.6],
    "C10\u2212C12": [2.6, 2.5, 2.4, 2.4, 2.5, 2.5],
    "E": [2.5, 2.5, 2.5, 2.5, 2.6, 2.6],
}
NLD_G = {
    "C10\u2212C12": [0.0065, 0.024, 0.031, 0.022, 0.012, 0.03, 0.02, -0.01, -0.025, 0.005, 0.033],
    "A": [0.002, 0.006, 0.01, 0.012, 0.014, 0.012, -0.004, 0.019, -0.015, -0.01, 0.01],
    "C21": [0.0, -0.002, -0.004, -0.006, -0.008, -0.015, -0.02, -0.005, 0.008, -0.015, -0.01],
    "G45": [0.004, 0.004, 0.005, 0.005, 0.005, 0.004],
    "G46": [0.005, 0.007, 0.009, 0.01, 0.01, 0.0],
    "C19": [0.0, -0.003, -0.006, -0.008, -0.01, -0.006],
    "C24_C25": [0.001, 0.0, -0.002, -0.003, -0.002, -0.002],
    "Q": [0.002, 0.001, 0.0, 0.0, -0.002, -0.002],
    "H53": [0.003, 0.005, 0.006, 0.006, 0.006, 0.005],
    "C20": [0.001, 0.0, -0.001, -0.002, -0.004, -0.003],
    "M_N": [0.002, 0.001, 0.0, -0.001, 0.0, 0.0],
    "K": [0.003, 0.003, 0.002, 0.002, 0.001, 0.001],
}

INDUSTRY_LINES = {
    "DEU": [DEU_P, DEU_X, DEU_R, DEU_G],
    "FRA": [FRA_P, FRA_X, FRA_R, FRA_G],
    "ITA": [ITA_P, ITA_X, ITA_R, ITA_G],
    "JPN": [JPN_P, JPN_X, JPN_R, JPN_G],
    "NLD": [NLD_P, NLD_X, NLD_R, NLD_G],
}
CARBON = [CARBON_P, CARBON_X, CARBON_R, CARBON_G]
GREEN = [GREEN_P, GREEN_X, GREEN_R, GREEN_G]

# ------------------------------------------------------------------ style
FONT = "Liberation Sans"
PANEL_BG = "#EBEBEB"
STRIP_BG = "#D9D9D9"
CARBON_COLOR = "#F8766D"
GREEN_COLOR = "#00BFC4"
LEFT_W = 33
FRAME_W = 85
GAPS = [6, 5, 6, 5, 6, 5, 2]
ROW_FRAME_H = [110, 110, 111, 111]
ROW_BOTTOM = [5, 5, 5, 16]
Y_RANGES = [(-0.056, 1.181), (-0.82, 20.25), (-1.42, 8.45), (-0.0826, 0.0426)]
Y_FMT = ["%.1f", "%d", "%d", "%.2f"]


def hue_color(h, c=100.0, l=65.0):
    hr = math.radians(h)
    U, V = c * math.cos(hr), c * math.sin(hr)
    Xn, Yn, Zn = 95.047, 100.0, 108.883
    un = 4 * Xn / (Xn + 15 * Yn + 3 * Zn)
    vn = 9 * Yn / (Xn + 15 * Yn + 3 * Zn)
    Y = Yn * ((l + 16) / 116) ** 3
    u = U / (13 * l) + un
    v = V / (13 * l) + vn
    X = Y * 9 * u / (4 * v)
    Z = Y * (12 - 3 * u - 20 * v) / (4 * v)
    x, y, z = X / 100, Y / 100, Z / 100
    rgb = (3.240479 * x - 1.537150 * y - 0.498535 * z,
           -0.969256 * x + 1.875992 * y + 0.041556 * z,
           0.055648 * x - 0.204043 * y + 1.057311 * z)

    def gam(t):
        t = min(1.0, max(0.0, t))
        return 12.92 * t if t <= 0.0031308 else 1.055 * t ** (1 / 2.4) - 0.055
    return "#%02X%02X%02X" % tuple(int(round(255 * gam(t))) for t in rgb)


IND_COLOR = {name: hue_color(15 + 360.0 * i / len(INDUSTRIES)) for i, name in enumerate(INDUSTRIES)}


def bare(width, height, xr, yr, bg="white"):
    p = figure(width=width, height=height, x_range=xr, y_range=yr, output_backend="svg",
               toolbar_location=None, x_axis_location=None, y_axis_location=None,
               title=None, background_fill_color=bg, border_fill_color="white",
               outline_line_color=None)
    p.center = [r for r in p.center if not isinstance(r, Grid)]
    p.min_border = 0
    p.min_border_left = 0
    p.min_border_right = 0
    p.min_border_top = 0
    p.min_border_bottom = 0
    return p


def times_for(vals):
    return TIME_50 if len(vals) == len(TIME_50) else TIME_100


def style_axis(ax):
    ax.axis_line_color = None
    ax.major_tick_line_color = "#333333"
    ax.major_tick_out = 3
    ax.major_tick_in = 0
    ax.minor_tick_out = 0
    ax.minor_tick_in = 0
    ax.major_label_text_font = FONT
    ax.major_label_text_font_size = "8.8px"
    ax.major_label_text_color = "#4D4D4D"
    ax.major_label_standoff = 2


def panel(r, c):
    left = LEFT_W if c == 0 else 0
    w = left + FRAME_W + GAPS[c]
    h = ROW_FRAME_H[r] + ROW_BOTTOM[r]
    p = bare(w, h, Range1d(-25, 525), Range1d(*Y_RANGES[r]), bg=PANEL_BG)
    p.min_border_left = left
    p.min_border_right = GAPS[c]
    p.min_border_bottom = ROW_BOTTOM[r]
    p.add_layout(Grid(dimension=0, ticker=FixedTicker(ticks=X_MAJOR, minor_ticks=X_MINOR),
                      grid_line_color="white", grid_line_width=1.1,
                      minor_grid_line_color="white", minor_grid_line_width=0.55))
    p.add_layout(Grid(dimension=1, ticker=FixedTicker(ticks=Y_MAJOR[r], minor_ticks=Y_MINOR[r]),
                      grid_line_color="white", grid_line_width=1.1,
                      minor_grid_line_color="white", minor_grid_line_width=0.55))
    if c == 0:
        ay = LinearAxis(ticker=FixedTicker(ticks=Y_MAJOR[r]),
                        formatter=PrintfTickFormatter(format=Y_FMT[r]))
        style_axis(ay)
        p.add_layout(ay, "left")
    if r == 3:
        ax = LinearAxis(ticker=FixedTicker(ticks=X_MAJOR), formatter=PrintfTickFormatter(format="%d"))
        style_axis(ax)
        p.add_layout(ax, "below")

    lines = INDUSTRY_LINES[COUNTRY_OF[c]][r]
    names = [n for n in INDUSTRIES if n in lines]
    src = ColumnDataSource(dict(
        xs=[times_for(lines[n]) for n in names],
        ys=[lines[n] for n in names],
        color=[IND_COLOR[n] for n in names],
    ))
    p.multi_line(xs="xs", ys="ys", line_color="color", line_alpha=0.6, line_width=0.9, source=src)
    p.line(TIME_50, CARBON[r][c], line_color=CARBON_COLOR, line_width=3)
    p.line(TIME_50, GREEN[r][c], line_color=GREEN_COLOR, line_width=3)
    p.add_layout(Span(location=VLINE_TIME[c], dimension="height", line_color="#A0A0A0",
                      line_dash="4 3", line_width=1))
    return p


def top_strip(c):
    p = bare(FRAME_W + GAPS[c], 18, Range1d(0, 1), Range1d(0, 1), bg=STRIP_BG)
    p.min_border_right = GAPS[c]
    p.add_layout(Label(x=0.5, y=0.5, text=COLUMNS[c], text_align="center", text_baseline="middle",
                       text_font=FONT, text_font_size="8.8px", text_color="#1A1A1A"))
    return p


def side_strip(r):
    p = bare(17, ROW_FRAME_H[r] + ROW_BOTTOM[r], Range1d(0, 1), Range1d(0, 1), bg=STRIP_BG)
    p.min_border_bottom = ROW_BOTTOM[r]
    p.add_layout(Label(x=0.5, y=0.5, text=VARIABLES[r], text_align="center", text_baseline="middle",
                       angle=-math.pi / 2, text_font=FONT, text_font_size="8.8px",
                       text_color="#1A1A1A"))
    return p


# header
header = bare(854, 40, Range1d(0, 854), Range1d(40, 0))
header.add_layout(Label(x=33, y=12, text=TITLE, text_font=FONT, text_font_size="14px",
                        text_font_style="bold", text_baseline="middle", text_color="black"))
header.add_layout(Label(x=33, y=26, text=SUBTITLE, text_font=FONT, text_font_size="10px",
                        text_baseline="middle", text_color="black"))

strip_row = row([Spacer(width=LEFT_W, height=18)] + [top_strip(c) for c in range(7)]
                + [Spacer(width=17, height=18)])
panel_rows = [row([panel(r, c) for c in range(7)] + [side_strip(r)]) for r in range(4)]

footer = bare(680, 12, Range1d(0, 680), Range1d(12, 0))
footer.add_layout(Label(x=LEFT_W + 3 * (FRAME_W + 5.5) + FRAME_W / 2, y=4, text="time",
                        text_align="center", text_baseline="middle", text_font=FONT,
                        text_font_size="11px", text_color="black"))

# legend
LEG_TOP = 138.0
LEG_STEP = 17.6
LEG_ROWS = 19
LEG_COL_X = [696.0, 763.5]
legend_labels = INDUSTRIES + PROCESSES
legend_colors = [IND_COLOR[n] for n in INDUSTRIES] + [CARBON_COLOR, GREEN_COLOR]
legend_alpha = [0.6] * len(INDUSTRIES) + [1.0, 1.0]
legend_width = [1.2] * len(INDUSTRIES) + [3.0, 3.0]
lx0, lx1, ly, tx = [], [], [], []
for i in range(len(legend_labels)):
    col, k = divmod(i, LEG_ROWS)
    lx0.append(LEG_COL_X[col] + 1)
    lx1.append(LEG_COL_X[col] + 16)
    ly.append(LEG_TOP + k * LEG_STEP)
    tx.append(LEG_COL_X[col] + 23.5)

lg = bare(174, 503, Range1d(680, 854), Range1d(543, 40))
lg.quad(left=[x for x in LEG_COL_X], right=[x + 17.3 for x in LEG_COL_X],
        top=[LEG_TOP - LEG_STEP / 2] * 2, bottom=[LEG_TOP + (LEG_ROWS - 0.5) * LEG_STEP] * 2,
        fill_color="#F2F2F2", line_color=None)
lsrc = ColumnDataSource(dict(x0=lx0, x1=lx1, y=ly, tx=tx, label=legend_labels,
                             color=legend_colors, alpha=legend_alpha, width=legend_width))
lg.segment(x0="x0", y0="y", x1="x1", y1="y", line_color="color", line_alpha="alpha",
           line_width="width", source=lsrc)
lg.text(x="tx", y="y", text="label", text_font=value(FONT), text_font_size="8.8px",
        text_baseline="middle", text_color="#1A1A1A", source=lsrc)
lg.add_layout(Label(x=696, y=119, text="industry", text_font=FONT, text_font_size="11px",
                    text_baseline="middle", text_color="black"))

left_block = column([strip_row] + panel_rows + [footer])
layout = column([header, row([left_block, lg])])

open("out.html", "w").write(file_html(layout, INLINE))
